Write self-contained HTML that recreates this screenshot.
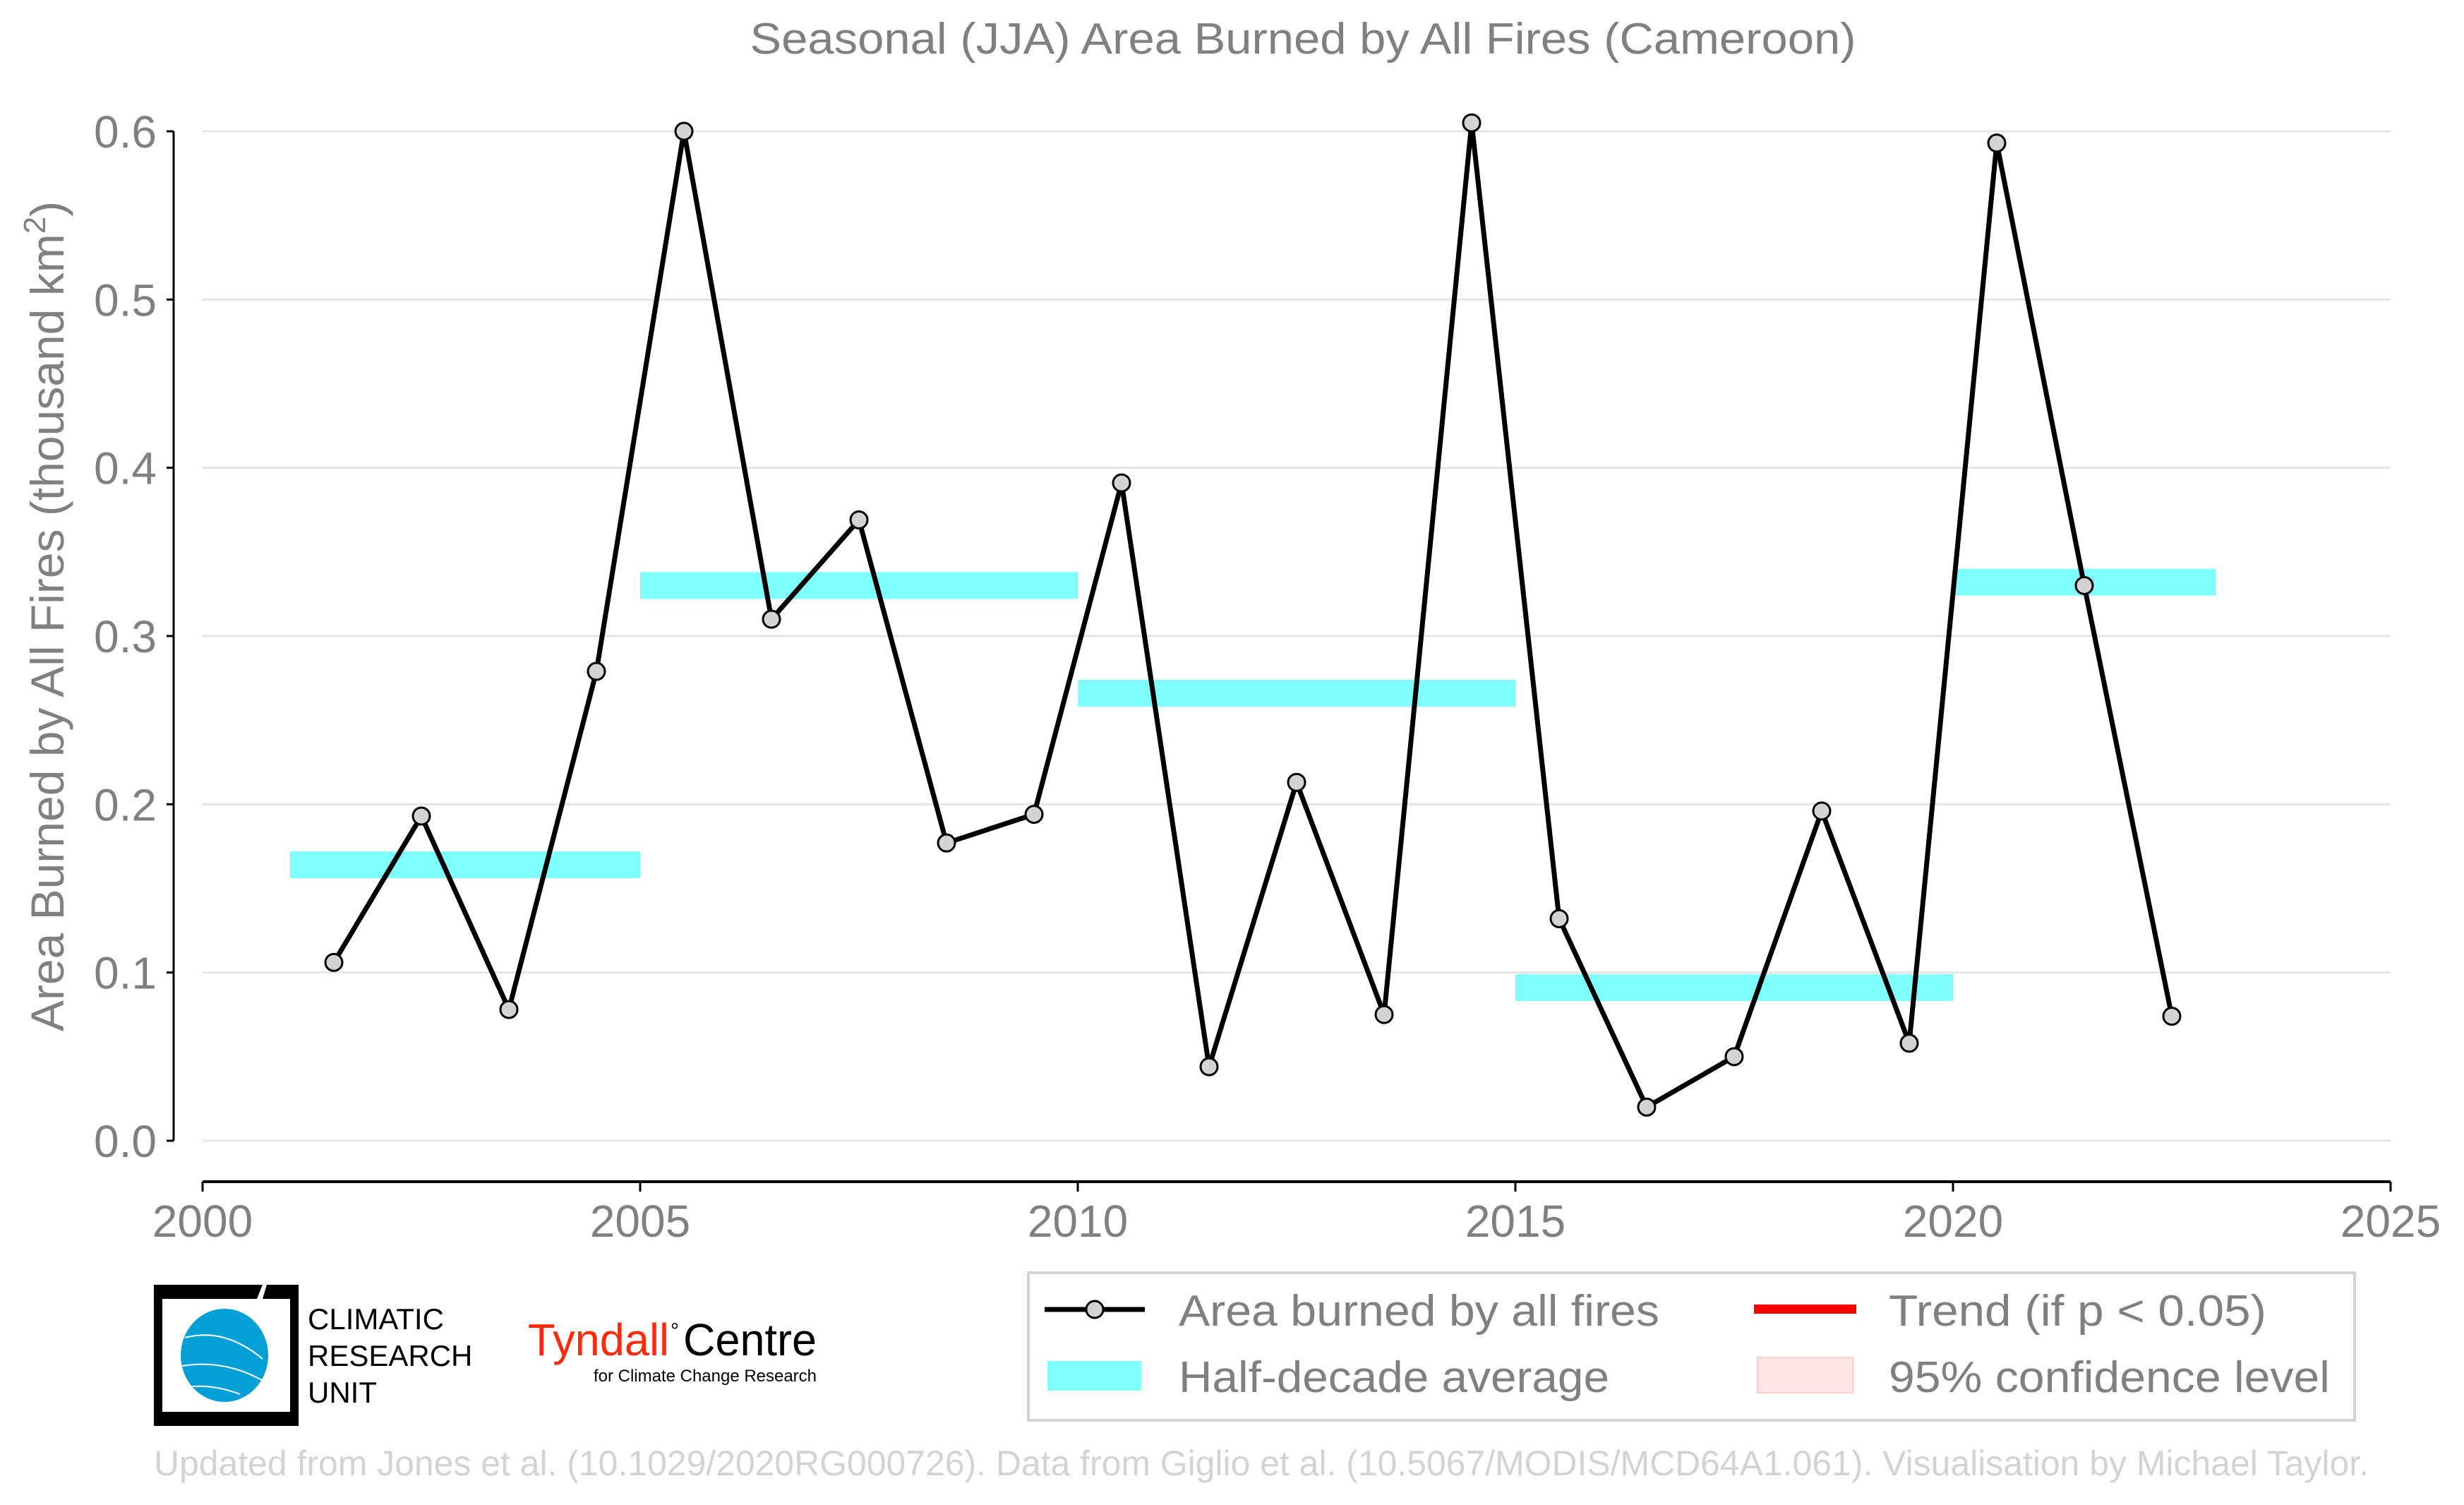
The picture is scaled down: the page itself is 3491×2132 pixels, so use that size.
<!DOCTYPE html>
<html><head><meta charset="utf-8"><style>
html,body{margin:0;padding:0;background:#fff;}
svg{display:block;font-family:"Liberation Sans",Arial,sans-serif;}
</style></head><body>
<svg id="chart" width="3491" height="2132" viewBox="0 0 3491 2132" xmlns="http://www.w3.org/2000/svg">
<text x="1846" y="76" font-size="62" fill="#808080" text-anchor="middle" textLength="1567" lengthAdjust="spacingAndGlyphs">Seasonal (JJA) Area Burned by All Fires (Cameroon)</text>
<text transform="translate(90,873) rotate(-90)" font-size="66" fill="#808080" text-anchor="middle">Area Burned by All Fires (thousand km<tspan dy="-26" font-size="44">2</tspan><tspan dy="26">)</tspan></text>
<g id="grid"></g>
<g id="axes"></g>
<g id="bars"></g>
<g id="series"></g>
<g>
<rect x="1457" y="1803" width="1879" height="209" fill="#fff" stroke="#d3d3d3" stroke-width="4"/>
<line x1="1480" y1="1855" x2="1622" y2="1855" stroke="#000" stroke-width="7"/>
<circle cx="1551" cy="1855" r="12" fill="#d3d3d3" stroke="#000" stroke-width="3"/>
<text x="1670" y="1878" font-size="62" fill="#808080" textLength="681" lengthAdjust="spacingAndGlyphs">Area burned by all fires</text>
<rect x="2485" y="1848" width="145" height="13" fill="#ff0000"/>
<text x="2676" y="1878" font-size="62" fill="#808080" textLength="535" lengthAdjust="spacingAndGlyphs">Trend (if p &lt; 0.05)</text>
<rect x="1484" y="1928" width="133" height="42" fill="#80ffff"/>
<text x="1670" y="1972" font-size="62" fill="#808080" textLength="610" lengthAdjust="spacingAndGlyphs">Half-decade average</text>
<rect x="2490" y="1923" width="135" height="50" fill="#ffe4e6" stroke="#ffcccc" stroke-width="2"/>
<text x="2676" y="1972" font-size="62" fill="#808080" textLength="625" lengthAdjust="spacingAndGlyphs">95% confidence level</text>
</g>
<g>
<path d="M218 1820 H372 L364 1840 H230 V2000 H290 L283 2020 H218 Z" fill="#000"/>
<path d="M378 1820 H423 V2020 H275 L282 2000 H411 V1840 H372 Z" fill="#000"/>
<ellipse cx="318" cy="1920" rx="62" ry="66" fill="#03a0d8"/>
<path d="M262 1895 Q318 1880 372 1925 M258 1935 Q320 1925 376 1958 M265 1965 Q300 1960 340 1975" stroke="#fff" stroke-width="2" fill="none"/>
<text x="436" y="1883" font-size="42" fill="#000">CLIMATIC</text>
<text x="436" y="1935" font-size="42" fill="#000">RESEARCH</text>
<text x="436" y="1987" font-size="42" fill="#000">UNIT</text>
</g>
<g>
<text x="748" y="1920" font-size="64" fill="#ff2a0a" textLength="200" lengthAdjust="spacingAndGlyphs">Tyndall</text>
<text x="950" y="1895" font-size="30" fill="#000">°</text>
<text x="968" y="1920" font-size="64" fill="#000" textLength="189" lengthAdjust="spacingAndGlyphs">Centre</text>
<text x="841" y="1957" font-size="24" fill="#000" textLength="316" lengthAdjust="spacingAndGlyphs">for Climate Change Research</text>
</g>
<text x="218" y="2090" font-size="50" fill="#d3d3d3" textLength="3138" lengthAdjust="spacingAndGlyphs">Updated from Jones et al. (10.1029/2020RG000726). Data from Giglio et al. (10.5067/MODIS/MCD64A1.061). Visualisation by Michael Taylor.</text>
</svg>
<script>
const years = [2001,2002,2003,2004,2005,2006,2007,2008,2009,2010,2011,2012,2013,2014,2015,2016,2017,2018,2019,2020,2021,2022];
const areaValues = [0.106,0.193,0.078,0.279,0.600,0.310,0.369,0.177,0.194,0.391,0.044,0.213,0.075,0.605,0.132,0.020,0.050,0.196,0.058,0.593,0.330,0.074];
const halfStart = [2001,2005,2010,2015,2020];
const halfEnd = [2005,2010,2015,2020,2023];
const halfValues = [0.164,0.330,0.266,0.091,0.332];
const yTicks = [0,0.1,0.2,0.3,0.4,0.5,0.6];
const yTickLabels = ["0.0","0.1","0.2","0.3","0.4","0.5","0.6"];
const xTicks = [2000,2005,2010,2015,2020,2025];
const xTickLabels = ["2000","2005","2010","2015","2020","2025"];

const NS = "http://www.w3.org/2000/svg";
const X0 = 287, X1 = 3387, Y0 = 1616, Y1 = 186;
const xs = v => X0 + (v - 2000) / 25 * (X1 - X0);
const ys = v => Y0 - v / 0.6 * (Y0 - Y1);
function mk(tag, attrs, parent) {
  const e = document.createElementNS(NS, tag);
  for (const k in attrs) e.setAttribute(k, attrs[k]);
  parent.appendChild(e);
  return e;
}
const grid = document.getElementById('grid');
const axes = document.getElementById('axes');
const bars = document.getElementById('bars');
const series = document.getElementById('series');

yTicks.forEach((t, i) => {
  const g = mk('line', {x1: X0, x2: X1, y1: ys(t), y2: ys(t), stroke: '#e5e5e5', 'stroke-width': 3}, grid);
  
  
  mk('line', {x1: 236, x2: 246, y1: ys(t), y2: ys(t), stroke: '#000', 'stroke-width': 3}, axes);
  const tx = mk('text', {x: 222, y: ys(t) + 23, 'font-size': 64, fill: '#808080', 'text-anchor': 'end'}, axes);
  tx.textContent = yTickLabels[i];
  
  
});
const ya = mk('line', {x1: 246, x2: 246, y1: ys(0.6), y2: ys(0), stroke: '#000', 'stroke-width': 3}, axes);


const xa = mk('line', {x1: X0, x2: X1, y1: 1674, y2: 1674, stroke: '#000', 'stroke-width': 4}, axes);


xTicks.forEach((t, i) => {
  mk('line', {x1: xs(t), x2: xs(t), y1: 1674, y2: 1688, stroke: '#000', 'stroke-width': 3}, axes);
  const tx = mk('text', {x: xs(t), y: 1752, 'font-size': 64, fill: '#808080', 'text-anchor': 'middle'}, axes);
  tx.textContent = xTickLabels[i];
  
  
});
halfValues.forEach((v, i) => {
  const r = mk('rect', {x: xs(halfStart[i]), y: ys(v) - 19, width: xs(halfEnd[i]) - xs(halfStart[i]), height: 38, fill: '#80ffff'}, bars);
  
  
});
const pts = years.map((y, i) => xs(y + 0.5) + ',' + ys(areaValues[i])).join(' ');
const pl = mk('polyline', {points: pts, fill: 'none', stroke: '#000', 'stroke-width': 7, 'stroke-linejoin': 'round'}, series);


years.forEach((y, i) => {
  const c = mk('circle', {cx: xs(y + 0.5), cy: ys(areaValues[i]), r: 12, fill: '#d3d3d3', stroke: '#000', 'stroke-width': 3}, series);
  
  
});
</script>
</body></html>
